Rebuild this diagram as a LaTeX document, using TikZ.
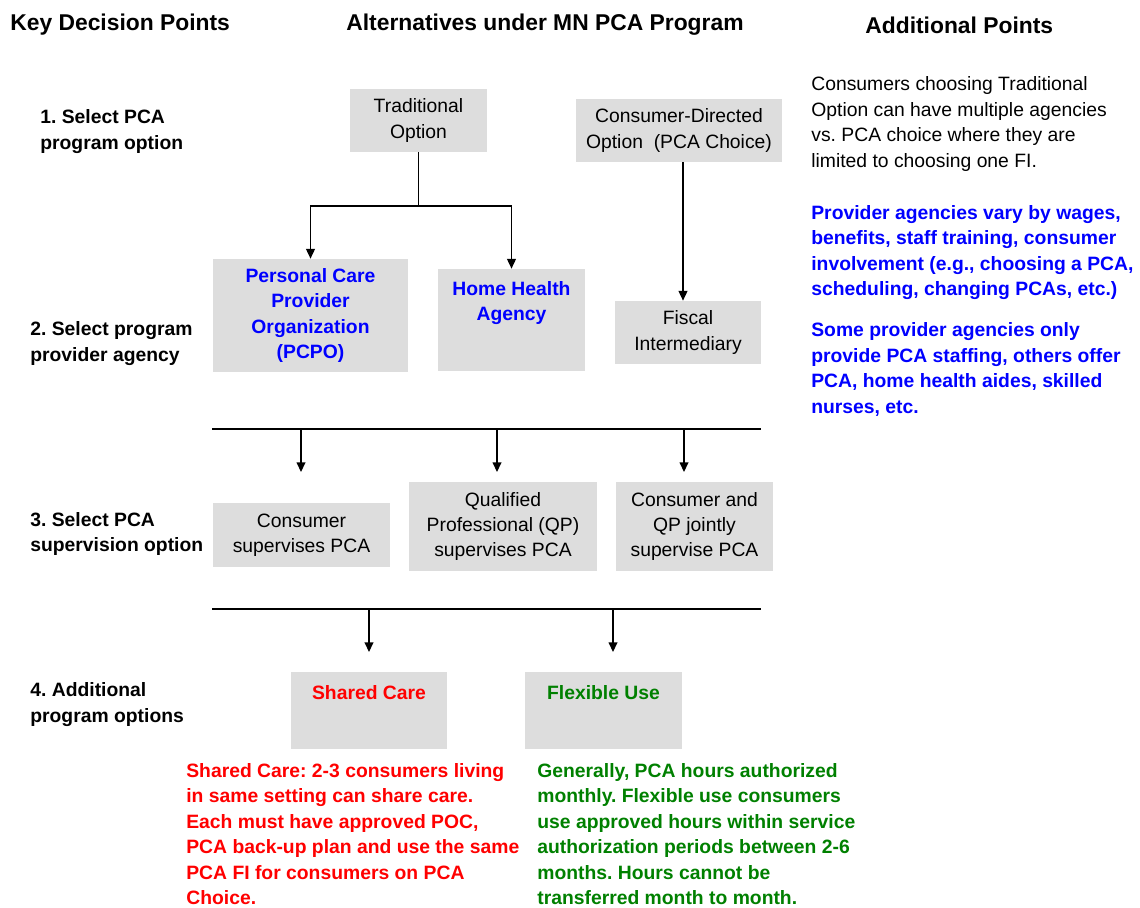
\documentclass[tikz,border=0pt]{standalone}
\usepackage{fontspec}
\setmainfont{Liberation Sans}
\usetikzlibrary{positioning, arrows.meta}
\definecolor{box_fill}{HTML}{DDDDDD}
\definecolor{agency_blue}{HTML}{0000FF}
\definecolor{shared_red}{HTML}{FF0000}
\definecolor{flex_green}{HTML}{008000}
\newcommand{\pxu}{0.02cm}
\newcommand{\bodyfont}{\fontsize{11}{14.5}\selectfont}
\frenchspacing

\begin{document}
\begin{tikzpicture}[
    x=0.02cm, y=-0.02cm,
    font=\bodyfont,
    box/.style 2 args={fill=box_fill, inner sep=0pt, align=center,
        minimum width={#1*\pxu}, minimum height={#2*\pxu}},
    head/.style={font=\fontsize{13}{15}\selectfont\bfseries, inner sep=0pt},
    step_lbl/.style={font=\bodyfont\bfseries, align=left, anchor=west, inner sep=0pt},
    note/.style={align=left, anchor=west, inner sep=0pt},
    top_lbl/.style={anchor=north, inner sep=0pt, yshift={-12*\pxu}, align=center, font=\bodyfont\bfseries},
    flow/.style={line width=0.75pt, -{Triangle[length=5.5pt, width=5pt]}},
    bus/.style={line width=0.75pt}
]
\useasboundingbox (0,0) rectangle (1140,907);

% --- Titoli delle colonne ---
\node[head, anchor=west] (hd_key) at (10,25) {Key Decision Points};
\node[head] (hd_alt) at (545,25) {Alternatives under MN PCA Program};
\node[head, anchor=west] (hd_add) at (865,25) {Additional Points};

% --- Punti di decisione (colonna sinistra) ---
\node[step_lbl] (step1) at (40,131.5) {1. Select PCA\\program option};
\node[step_lbl] (step2) at (30,343.5) {2. Select program\\provider agency};
\node[step_lbl] (step3) at (30,534) {3. Select PCA\\supervision option};
\node[step_lbl] (step4) at (30,704.5) {4. Additional\\program options};

% --- 1. Opzioni del programma ---
\node[box={137}{63}] (trad) at (418.5,120.5) {Traditional\\Option};
\node[box={206}{63}] (cdo) at (679,130.5) {Consumer-Directed\\Option\ \ (PCA Choice)};

% --- 2. Agenzie ---
\node[box={195}{113}, text=agency_blue, font=\bodyfont\bfseries] (pcpo) at (310.5,315.5)
    {Personal Care\\Provider\\Organization\\(PCPO)};
\node[box={147}{102}, label={[top_lbl, text=agency_blue]north:{Home Health\\Agency}}] (hha) at (511.5,320) {};
\node[box={146}{63}] (fi) at (688,332.5) {Fiscal\\Intermediary};

\coordinate (trad_split) at (418.5,206);
\draw[bus] (trad.south) -- (trad_split);
\draw[flow] (trad_split) -| (pcpo.north);
\draw[flow] (trad_split) -| (hha.north);
\draw[flow] ([xshift={4*\pxu}]cdo.south) -- ([xshift={4*\pxu}]cdo.south |- fi.north);

% --- 3. Supervisione ---
\coordinate (bus1_w) at (212,429);
\coordinate (bus1_e) at (761,429);
\draw[bus] (bus1_w) -- (bus1_e);

\coordinate (tip_csup) at (301,472);
\coordinate (tip_qp) at (497,472);
\coordinate (tip_joint) at (684,472);
\foreach \tip in {tip_csup, tip_qp, tip_joint}
    \draw[flow] (bus1_w -| \tip) -- (\tip);

\node[box={177}{64}] (csup) at (301.5,535) {Consumer\\supervises PCA};
\node[box={188}{89}] (qpsup) at (503,526.5) {Qualified\\Professional (QP)\\supervises PCA};
\node[box={157}{89}] (jsup) at (694.5,526.5) {Consumer and\\QP jointly\\supervise PCA};

% --- 4. Opzioni aggiuntive ---
\coordinate (bus2_w) at (212,609);
\coordinate (bus2_e) at (761,609);
\draw[bus] (bus2_w) -- (bus2_e);

\coordinate (tip_shared) at (369,652);
\coordinate (tip_flex) at (613,652);
\foreach \tip in {tip_shared, tip_flex}
    \draw[flow] (bus2_w -| \tip) -- (\tip);

\node[box={156}{77}, label={[top_lbl, yshift={-1*\pxu}, text=shared_red]north:Shared Care}] (shared) at (369,710.5) {};
\node[box={157}{77}, label={[top_lbl, yshift={-1*\pxu}, text=flex_green]north:Flexible Use}] (flex) at (603.5,710.5) {};

\node[note, text=shared_red, font=\bodyfont\bfseries] (shared_note) at (186,834)
    {Shared Care: 2-3 consumers living\\in same setting can share care.\\Each must have approved POC,\\PCA back-up plan and use the same\\PCA FI for consumers on PCA\\Choice.};
\node[note, text=flex_green, font=\bodyfont\bfseries] (flex_note) at (537,834)
    {Generally, PCA hours authorized\\monthly. Flexible use consumers\\use approved hours within service\\authorization periods between 2-6\\months. Hours cannot be\\transferred month to month.};

% --- Note a destra ---
\node[note] (add_multi) at (811,124)
    {Consumers choosing Traditional\\Option can have multiple agencies\\vs. PCA choice where they are\\limited to choosing one FI.};
\node[note, text=agency_blue, font=\bodyfont\bfseries] (add_vary) at (811,252.5)
    {Provider agencies vary by wages,\\benefits, staff training, consumer\\involvement (e.g., choosing a PCA,\\scheduling, changing PCAs, etc.)};
\node[note, text=agency_blue, font=\bodyfont\bfseries] (add_staff) at (811,369.5)
    {Some provider agencies only\\provide PCA staffing, others offer\\PCA, home health aides, skilled\\nurses, etc.};

\end{tikzpicture}
\end{document}
